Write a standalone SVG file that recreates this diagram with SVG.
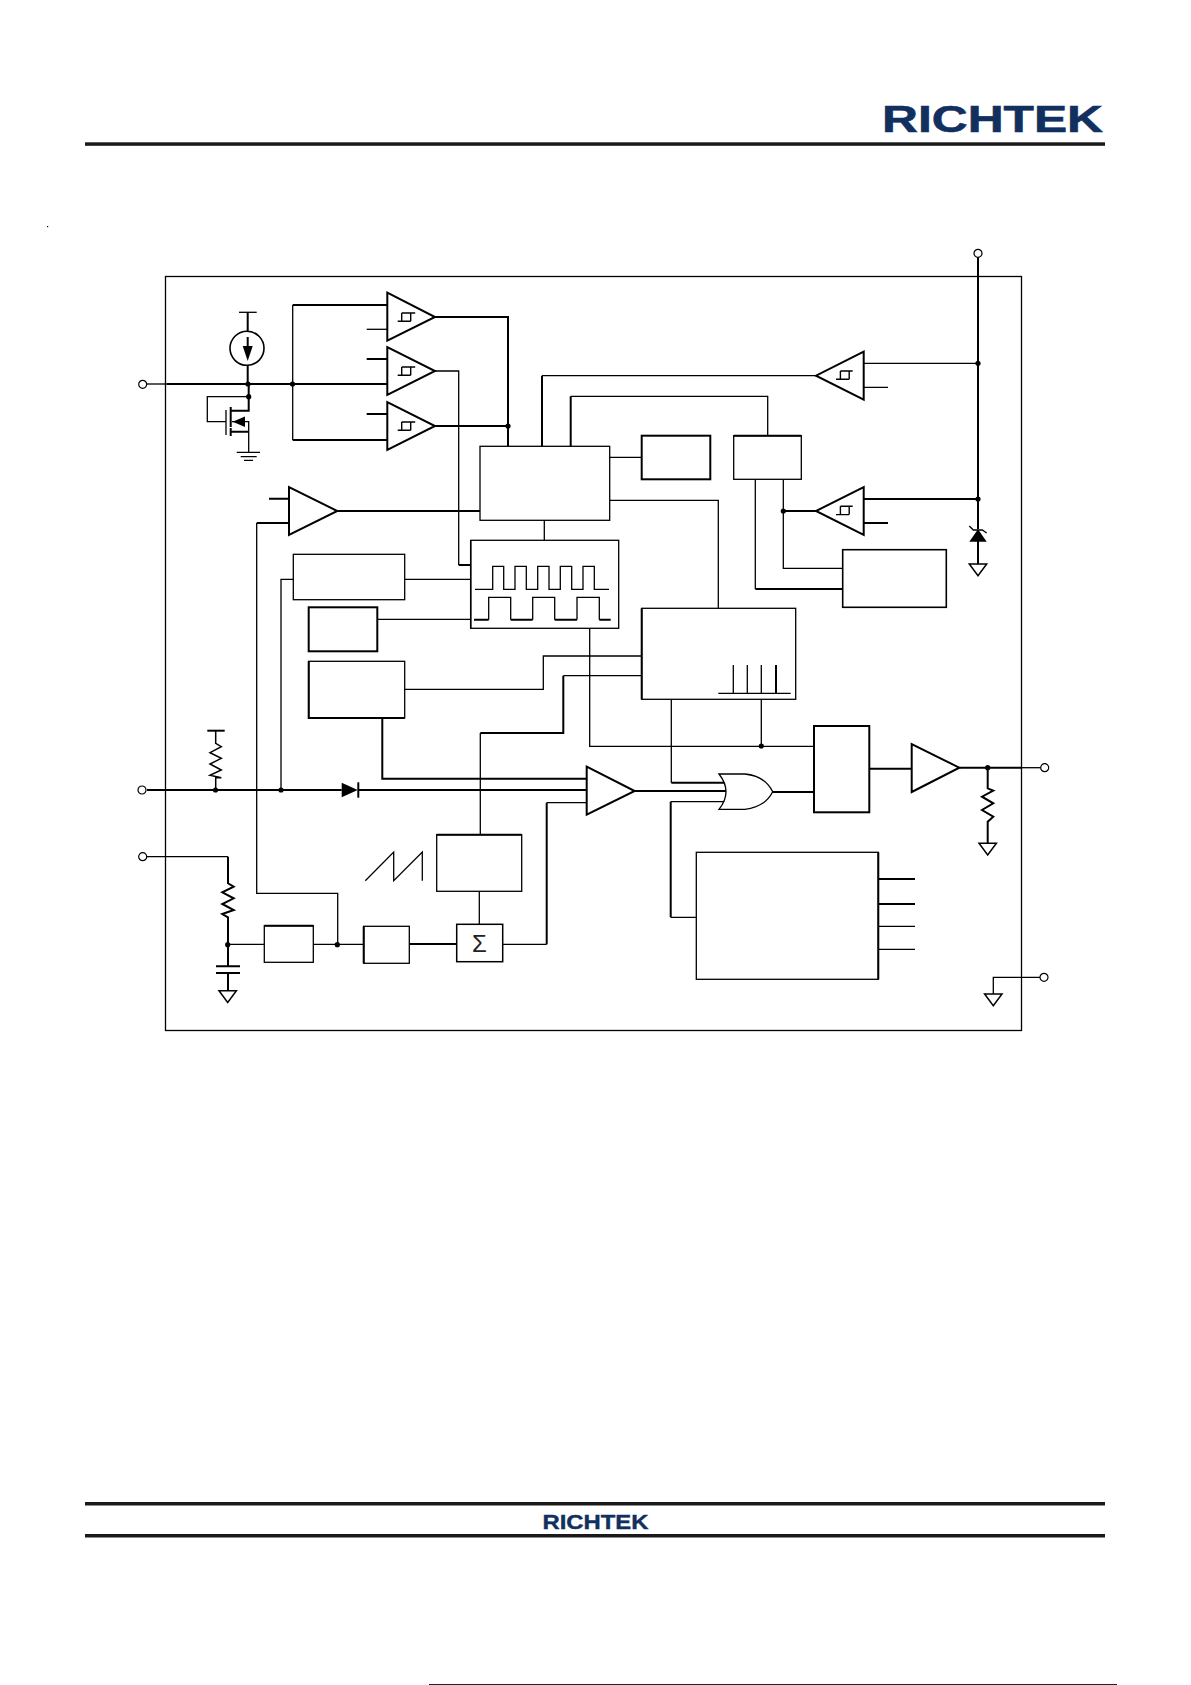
<svg xmlns="http://www.w3.org/2000/svg" width="1191" height="1685" viewBox="0 0 1191 1685">
<style>
rect.page{fill:#fff}
.t{fill:none;stroke:#000;stroke-width:1.3}
.k{fill:none;stroke:#000;stroke-width:2}
.b{fill:#fff;stroke:#000;stroke-width:1.3}
.B{fill:#fff;stroke:#000;stroke-width:2}
.f{fill:#000;stroke:none}
.p{fill:#fff;stroke:#000;stroke-width:1.2}
.h{fill:none;stroke:#000;stroke-width:1.4}
.r{fill:none;stroke:#000;stroke-width:1.5}
.logo{font-family:"Liberation Sans",Arial,sans-serif;font-weight:bold;fill:#12305f;stroke:#12305f}
</style>
<defs>
<circle id="dot" r="2.6" class="f"/>
<circle id="pin" r="4" class="p"/>
<path id="gnd" d="M-8.7,0H8.7L0,11.7Z" class="B" style="stroke-width:1.5"/>
<path id="hr" d="M-13,4.3H0M-9,-4H4.5M-9,-4V4.3M0,-4V4.3" class="h"/>
<path id="hl" d="M-8.7,4.3H4.5M-4.3,-4H8M-4.3,-4V4.3M4.5,-4V4.3" class="h"/>
</defs>
<rect class="page" width="1191" height="1685"/>

<rect id="speck" x="47" y="226" width="1.2" height="1.2" fill="#000"/>
<rect id="edge" x="429" y="1684" width="688" height="1" fill="#222"/>

<g id="header">
<rect x="85" y="142.3" width="1020" height="3.5" fill="#1a1a1a"/>
<text class="logo" x="882" y="131.5" font-size="37" stroke-width="0.6" textLength="221" lengthAdjust="spacingAndGlyphs">RICHTEK</text>
</g>
<g id="footer">
<rect x="85" y="1502" width="1020" height="3.5" fill="#1a1a1a"/>
<rect x="85" y="1534" width="1020" height="3.5" fill="#1a1a1a"/>
<text class="logo" x="542.5" y="1529" font-size="21" stroke-width="0.4" textLength="106" lengthAdjust="spacingAndGlyphs">RICHTEK</text>
</g>

<rect id="chip" x="165.5" y="276.5" width="856" height="754" class="t"/>

<g id="connectors">
<path class="t" d="M147,384H167"/>
<path class="k" d="M167,384H387"/>
<path class="k" d="M247.7,312.3V331M247.7,365V384"/>
<path class="t" d="M239,312.3H256.7"/>
<path class="k" d="M248.7,384V396.7"/>
<path class="k" d="M292.7,305H387M292.7,440H387"/>
<path class="t" d="M292.7,305V440"/>
<path class="t" d="M366.7,329.3H387"/>
<path class="k" d="M366.7,359H387M366.7,414H387"/>
<path class="k" d="M435,317H508V446.3M435,426H508"/>
<path class="t" d="M435,371H458.7V565"/>
<path class="k" d="M458.7,565H470.7"/>
<path class="k" d="M542,446.3V375.7M570.7,446.3V396.3"/>
<path class="t" d="M542,375.7H816M570.7,396.3H767.7V435.7"/>
<path class="k" d="M269,498.7H289M256.7,523H289"/>
<path class="k" d="M337.3,511H480"/>
<path class="t" d="M256.7,523V893.3H337.7V944.3"/>
<path class="t" d="M544.3,520.3V540.3"/>
<path class="t" d="M404.7,579.3H470.7M293.3,579.3H281V790"/>
<path class="t" d="M377.3,619.3H470.7"/>
<path class="t" d="M404.7,689.3H543.3V656H641.7"/>
<path class="k" d="M382.3,718V778.7H586.7"/>
<path class="k" d="M147,790H341.7M358.3,790H586.7"/>
<path class="r" d="M215.7,730.7V743.3L221.3,746.7L210,752.7L221.3,758.3L210,764L221.3,770L210,775.3L221.3,777.7L215.7,777.7V790"/>
<path class="k" d="M207.3,730.7H224.7"/>
<path class="t" d="M147,856.7H228"/>
<path class="k" d="M228,856.7V883.3L233.7,886.7L222.3,892.3L233.7,898.3L222.3,904L233.7,910L222.3,914L228,917.3V966.3M228,973V990.7"/>
<path class="k" d="M216,966.3H240M216,973H240"/>
<path class="t" d="M228,944.3H264.3M313.3,944.3H363.7"/>
<path class="k" d="M409.3,944H456.7"/>
<path class="t" d="M479.3,891.3V924.3"/>
<path class="t" d="M480.3,834.7V733"/>
<path class="k" d="M480.3,733H563.3V675.7"/>
<path class="t" d="M563.3,675.7H641.7"/>
<path class="t" d="M502.7,944.3H546.7M546.7,802.7H586.7"/>
<path class="k" d="M546.7,944.3V802.7"/>
<path class="t" d="M589.7,628.3V746.3H814M761.3,699.3V746.3"/>
<path class="k" d="M634.7,791H726"/>
<path class="t" d="M671.3,699.3V782.7"/>
<path class="k" d="M671.3,782.7H724"/>
<path class="t" d="M670.7,801.7H724M670.7,917.3H696.3"/>
<path class="k" d="M670.7,801.7V917.3"/>
<path class="k" d="M772.7,792H814M869.3,768.7H911.7"/>
<path class="k" d="M959.3,767.7H1021.7"/>
<path class="t" d="M1021.7,767.7H1041"/>
<path class="k" d="M987.7,767.7V788.3L993.3,790.7L982,796.7L993.3,803.3L982,810L993.3,816.7L987.7,821.7V843.3"/>
<path class="k" d="M878.3,879H915M878.3,904H915"/>
<path class="t" d="M878.3,926.3H915M878.3,949.3H915"/>
<path class="t" d="M1040,977.3H993.3V994"/>
<path class="k" d="M978,257.3V529M978,541V564"/>
<path class="t" d="M863.7,363.3H978M863.7,387.3H888"/>
<path class="k" d="M863.7,499H978M863.7,523H888"/>
<path class="k" d="M783.3,511H816"/>
<path class="t" d="M783.3,479.3V568.3H842.7"/>
<path class="t" d="M755.3,479.3V589"/>
<path class="k" d="M755.3,589H842.7"/>
<path class="t" d="M609.7,457.3H641.7"/>
<path class="t" d="M609.7,500.3H718.3V608.3"/>
</g>

<g id="pin-left-1"><use href="#pin" x="142.7" y="384.3"/></g>
<g id="pin-left-2"><use href="#pin" x="142" y="790"/></g>
<g id="pin-left-3"><use href="#pin" x="142.7" y="856.7"/></g>
<g id="pin-top"><use href="#pin" x="978" y="253.3"/></g>
<g id="pin-right-1"><use href="#pin" x="1044.7" y="767.7"/></g>
<g id="pin-right-2"><use href="#pin" x="1044" y="977.3"/></g>

<g id="junctions">
<use href="#dot" x="248" y="384"/><use href="#dot" x="292.5" y="384"/><use href="#dot" x="248.7" y="396.7"/>
<use href="#dot" x="508" y="426"/><use href="#dot" x="215.5" y="790"/><use href="#dot" x="281" y="790"/>
<use href="#dot" x="227.7" y="944.7"/><use href="#dot" x="337.3" y="944.7"/><use href="#dot" x="761.3" y="746"/>
<use href="#dot" x="987.7" y="767.7"/><use href="#dot" x="978" y="363.3"/><use href="#dot" x="978" y="499"/><use href="#dot" x="783.3" y="511"/>
</g>

<g id="current-source">
<circle cx="247" cy="348.3" r="17" class="B" style="stroke-width:1.6"/>
<path class="k" d="M247.7,337V350"/>
<path class="f" d="M242.7,346H252.7L247.7,361Z"/>
</g>
<g id="mosfet">
<path class="t" d="M248.7,396.7H207.3V421.7H226M226,410V435"/>
<path class="k" d="M230.7,407V417M230.7,417V427M230.7,428V436"/>
<path class="k" d="M230.7,410.7H248.7V396.7M230.7,431.7H248.7"/>
<path class="t" d="M232,421.7H248.7V452.3"/>
<path class="f" d="M232.7,421.7L245,416.5V427Z"/>
<path class="t" d="M236.7,452.3H260M240.7,456.7H256.7M244,460.3H253"/>
</g>

<g id="cmp1"><path class="B" d="M387.3,292.7V340.7L435,317Z"/><use href="#hr" x="410.7" y="317"/></g>
<g id="cmp2"><path class="B" d="M387.3,347V395L435,371Z"/><use href="#hr" x="410.7" y="371"/></g>
<g id="cmp3"><path class="B" d="M387.3,402V450L435,426Z"/><use href="#hr" x="410.7" y="426"/></g>
<g id="amp"><path class="B" d="M289,487V535L337.3,511Z"/></g>
<g id="cmp4"><path class="B" d="M863.7,351.7V399.7L816,375.7Z"/><use href="#hl" x="844.7" y="375"/></g>
<g id="cmp5"><path class="B" d="M863.7,487V535L816,511Z"/><use href="#hl" x="844.7" y="510.3"/></g>
<g id="pwm-cmp"><path class="B" d="M586.7,766.7V814.7L634.7,791Z"/></g>
<g id="driver"><path class="B" d="M911.7,744V792L959.3,767.7Z"/></g>

<g id="control"><rect class="b" x="480" y="446.3" width="129.7" height="74"/></g>
<g id="box-a"><rect class="B" x="641.7" y="435.7" width="68.6" height="43.6"/></g>
<g id="box-uvlo"><rect class="b" x="733.7" y="435.7" width="67.6" height="43.6"/><path class="k" d="M733.7,435.7H801.3"/></g>
<g id="box-ref"><rect class="b" x="842.7" y="549.7" width="103.6" height="57.6" style="stroke-width:1.6"/></g>
<g id="osc-clock">
<rect class="b" x="470.7" y="540.3" width="148" height="88"/>
<path class="k" d="M470.7,540.3V628.3" style="stroke-width:1.5"/>
<path class="t" d="M475,589.3H492.7V566.3H503.7V589.3H515V566.3H526.3V589.3H537.7V566.3H549V589.3H560.3V566.3H571.7V589.3H583V566.3H594.3V589.3H609"/>
<path class="t" d="M488.7,619.7V597.3H510.7V619.7M532.7,619.7V597.3H554.7V619.7M577,619.7V597.3H599.3V619.7"/>
<path class="k" d="M474,619.7H488.7M510.7,619.7H532.7M554.7,619.7H577M599.3,619.7H610.7"/>
</g>
<g id="box-slope"><rect class="b" x="293.3" y="554.3" width="111.4" height="45.4"/></g>
<g id="box-b"><rect class="B" x="308.7" y="607.3" width="68.6" height="44"/></g>
<g id="box-c"><rect class="b" x="308.7" y="661.3" width="96" height="56.7"/><path class="k" d="M308.7,661.3V718H404.7"/></g>
<g id="pulse-gen">
<rect class="b" x="641.7" y="608.3" width="154" height="91"/>
<path class="k" d="M641.7,608.3V699.3"/>
<path class="t" d="M733.3,665V693.3M747.3,665V693.3M761.3,665V693.3M718.3,693.3H790.7"/>
<path class="k" d="M776,665V693.3"/>
</g>
<g id="osc"><rect class="b" x="436.7" y="834.7" width="85" height="56.6"/><path class="k" d="M436.7,834.7H521.7"/>
<path class="t" d="M365.3,880.7L393.7,852V880.7L422.3,852V880.7"/></g>
<g id="box-d"><rect class="b" x="264.3" y="925.7" width="49" height="36.6"/><path class="k" d="M264.3,925.7H313.3"/></g>
<g id="box-e"><rect class="b" x="363.7" y="926.3" width="45.6" height="37"/><path class="k" d="M363.7,926.3V963.3"/></g>
<g id="sum"><rect class="b" x="456.7" y="924.3" width="46" height="37.4" style="stroke-width:1.5"/>
<text x="479.5" y="951.7" font-size="24" text-anchor="middle" fill="#222" font-family="'Liberation Sans',Arial,sans-serif">Σ</text></g>
<g id="or-gate"><path class="b" d="M719,774H745Q765,776 772.7,791.7Q765,807 745,809.3H719Q733,791.7 719,774Z"/></g>
<g id="latch"><rect class="B" x="814" y="726" width="55.3" height="86.3"/></g>
<g id="protection"><rect class="b" x="696.3" y="852.3" width="182" height="127"/><path class="k" d="M878.3,852.3V979.3"/></g>

<g id="diode"><path class="f" d="M341.7,782.7V797.3L357.7,790Z"/><path class="k" d="M358.3,782.3V797.7"/></g>
<g id="zener"><path class="f" d="M969.3,541.7H986.7L978,529.3Z"/><path class="t" d="M969.3,526L973.3,530H982.3L986.7,533"/></g>
<g id="gnd1"><use href="#gnd" x="227.7" y="990.7"/></g>
<g id="gnd2"><use href="#gnd" x="978" y="564"/></g>
<g id="gnd3"><use href="#gnd" x="987.7" y="843.3"/></g>
<g id="gnd4"><use href="#gnd" x="993.3" y="994"/></g>
</svg>
